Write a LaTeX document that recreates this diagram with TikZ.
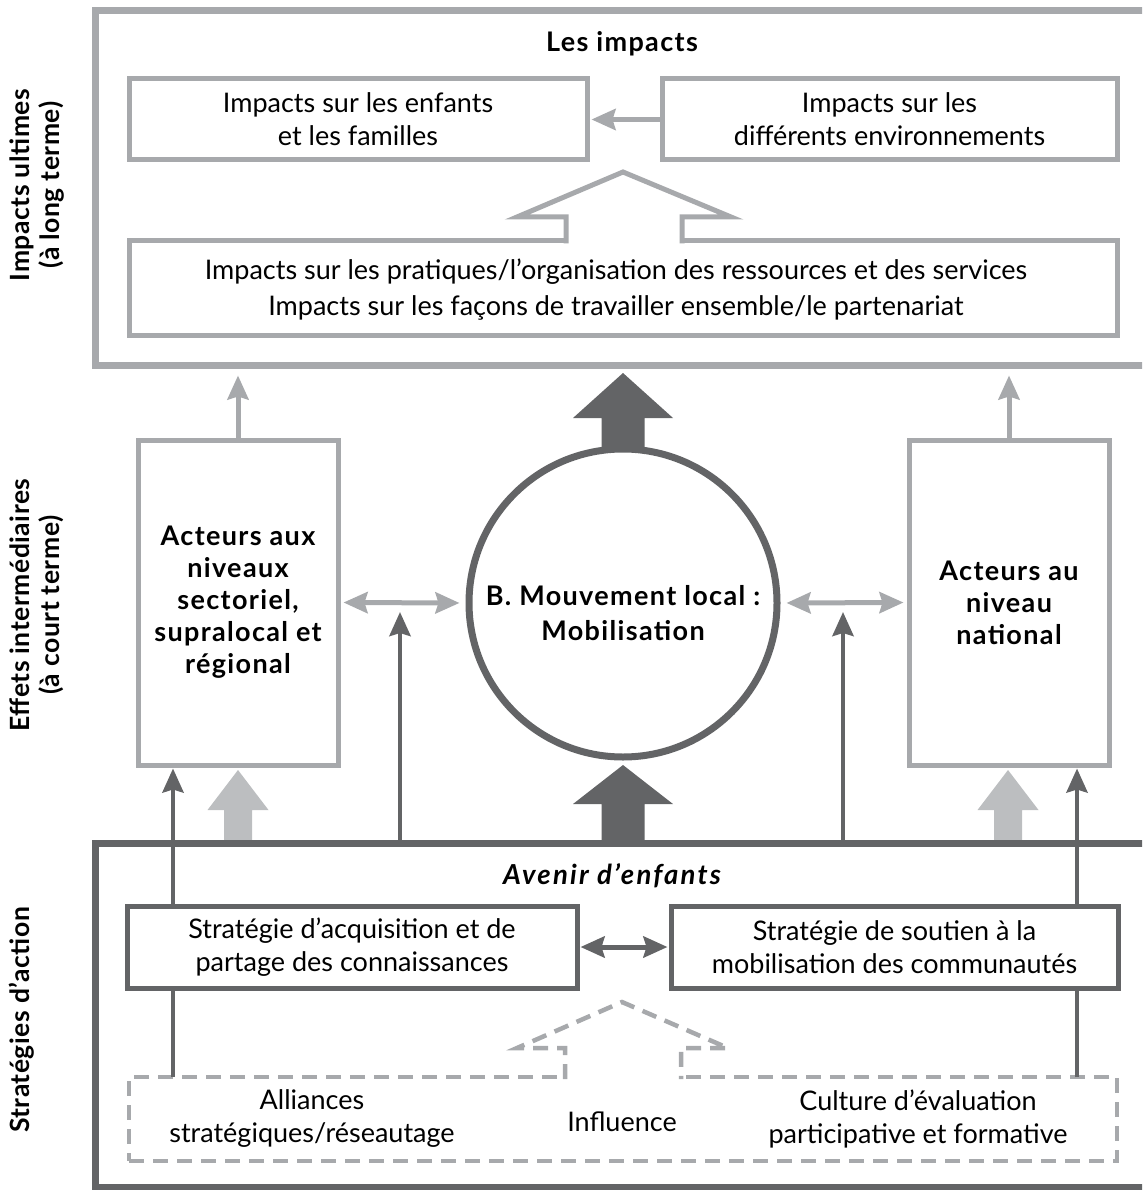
\documentclass[tikz,border=0pt]{standalone}
\usepackage{fontspec}
\setmainfont{Lato}
\newfontfamily\widebold{Lato}[LetterSpace=5]
\newfontfamily\wideital{Lato}[LetterSpace=8]
\newfontfamily\sidebold{Lato}[LetterSpace=2]
\usetikzlibrary{arrows.meta,calc}
\definecolor{lgray}{HTML}{A7A9AC}
\definecolor{dgray}{HTML}{636466}
\definecolor{fgray}{HTML}{BCBEC0}

\begin{document}
\begin{tikzpicture}[x=1pt,y=-1pt,
  txt/.style={font=\fontsize{27}{33}\selectfont, align=center, text=black},
  btxt/.style={font=\widebold\bfseries\fontsize{27}{32}\selectfont, align=center, text=black},
  lbox/.style={draw=lgray, line width=5pt, fill=white, rectangle, inner sep=0pt},
  dbox/.style={draw=dgray, line width=5pt, fill=white, rectangle, inner sep=0pt},
  frameL/.style={draw=lgray, line width=7pt, rectangle, inner sep=0pt},
  frameD/.style={draw=dgray, line width=7pt, rectangle, inner sep=0pt},
  larr/.style={draw=lgray, line width=5pt, -{Stealth[length=24pt,width=21pt,inset=3pt]}},
  darr/.style={draw=dgray, line width=4.5pt, -{Stealth[length=24pt,width=21pt,inset=3pt]}},
  ldbl/.style={draw=lgray, line width=5pt, {Stealth[length=24pt,width=21pt,inset=3pt]}-{Stealth[length=24pt,width=21pt,inset=3pt]}},
  ddbl/.style={draw=dgray, line width=5pt, {Stealth[length=24pt,width=21pt,inset=3pt]}-{Stealth[length=24pt,width=21pt,inset=3pt]}},
  dashline/.style={draw=lgray, line width=4.5pt, dash pattern=on 15pt off 9pt},
  side/.style={font=\sidebold\bfseries\fontsize{26.5}{30}\selectfont, align=center, rotate=90, text=black}
]
\useasboundingbox (0,0) rectangle (1142,1190);
\clip (0,0) rectangle (1142,1190);

% ---------- long-term impacts ----------
\node[frameL, minimum width=1055pt, minimum height=354pt] (ftop) at (622.5,188) {};
\node[btxt] (title) at (622,44) {Les impacts};
\node[lbox, txt, minimum width=458pt, minimum height=81pt] (enf) at (358,119.5)
  {Impacts sur les enfants\\et les familles};
\node[lbox, txt, minimum width=455pt, minimum height=81pt] (env) at (889.5,119.5)
  {Impacts sur les\\différents environnements};
\draw[larr, shorten >=2pt] (env.west) -- (enf.east);
\node[lbox, minimum width=988pt, minimum height=94pt] (prat) at (623,288) {};
\node[txt, font=\fontsize{27}{36}\selectfont] (pratt) at (616,290)
  {Impacts sur les pratiques/l’organisation des ressources et des services\\
   Impacts sur les façons de travailler ensemble/le partenariat};
% hollow arrow rising from the practices box
\fill[white] (566,236) rectangle (682,246);
\draw[lgray, line width=5pt, line join=miter]
  (566,243.5) -- (566,217) -- (517,217) -- (623,172) -- (731,217) -- (682,217) -- (682,243.5);

% ---------- intermediate effects ----------
\node[lbox, btxt, minimum width=200pt, minimum height=325pt] (lact) at (238,602.5)
  {Acteurs aux\\niveaux\\sectoriel,\\supralocal et\\régional};
\node[lbox, btxt, minimum width=200pt, minimum height=325pt] (ract) at (1009,602.5)
  {Acteurs au\\niveau\\national};
\draw[larr, shorten >=7pt] (lact.north) -- (lact.north |- ftop.south);
\draw[larr, shorten >=7pt] (ract.north) -- (ract.north |- ftop.south);

% big dark arrow from the circle to the impacts
\fill[dgray] (601.5,460) -- (601.5,418) -- (573,418) -- (623,373) -- (673,418) -- (644.5,418) -- (644.5,460) -- cycle;
% big dark arrow from the strategies to the circle
\fill[dgray] (601.5,845) -- (601.5,804) -- (573,804) -- (623,765) -- (673,804) -- (644.5,804) -- (644.5,845) -- cycle;
% big light arrows into the actor boxes
\fill[fgray] (224,845) -- (224,810) -- (207.5,810) -- (238,770) -- (268.5,810) -- (252,810) -- (252,845) -- cycle;
\fill[fgray] (994,845) -- (994,810) -- (977.5,810) -- (1008,770) -- (1038.5,810) -- (1022,810) -- (1022,845) -- cycle;

\node[circle, draw=dgray, line width=7pt, fill=white, minimum size=308pt, inner sep=0pt] (circ) at (623,603) {};
\node[btxt, font=\widebold\bfseries\fontsize{27}{35}\selectfont] (circt) at (623,613) {B. Mouvement local :\\Mobilisation};

\draw[ldbl, shorten <=3pt, shorten >=6pt] (lact.east) -- (circ.west);
\draw[ldbl, shorten <=6pt, shorten >=3pt] (circ.east) -- (ract.west);

% ---------- strategies ----------
\node[frameD, minimum width=1055pt, minimum height=344pt] (fbot) at (622.5,1015) {};
\node[font=\wideital\bfseries\itshape\fontsize{27.5}{30}\selectfont] (aven) at (612,876) {Avenir d’enfants};

\node[dashline, rectangle, minimum width=988pt, minimum height=84pt, inner sep=0pt] (dsh) at (623,1119) {};
\coordinate (aTop) at (173,1077);
\coordinate (cTop) at (1077,1077);
\draw[darr, shorten >=1pt] (aTop) -- (aTop |- lact.south);
\draw[darr, shorten >=1pt] (cTop) -- (cTop |- ract.south);
\coordinate (m1) at (400,612);
\coordinate (m2) at (843,612);
\draw[darr] (m1 |- fbot.north) -- (m1);
\draw[darr] (m2 |- fbot.north) -- (m2);

\node[dbox, txt, minimum width=450pt, minimum height=82pt] (sacq) at (352,947)
  {Stratégie d’acquisition et de\\partage des connaissances};
\node[dbox, txt, minimum width=447pt, minimum height=82pt] (ssout) at (894.5,947)
  {Stratégie de soutien à la\\mobilisation des communautés};
\draw[ddbl, shorten <=1pt, shorten >=1pt] (sacq.east) -- (ssout.west);

% dashed hollow arrow rising from the influence box
\fill[white] (565,1072) rectangle (681,1082);
\draw[dashline, line join=miter]
  (565,1079) -- (565,1048) -- (517,1048) -- (622,1002) -- (728,1048) -- (681,1048) -- (681,1079);

\node[txt] (alli) at (312,1119) {Alliances\\stratégiques/réseautage};
\node[txt] (infl) at (622,1122) {Influence};
\node[txt] (cult) at (918,1119) {Culture d’évaluation\\participative et formative};

% ---------- side labels ----------
\node[side] (s1) at (37,185) {Impacts ultimes\\(à long terme)};
\node[side] (s2) at (37,605) {Effets intermédiaires\\(à court terme)};
\node[side] (s3) at (22,1020) {Stratégies d’action};
\end{tikzpicture}
\end{document}
